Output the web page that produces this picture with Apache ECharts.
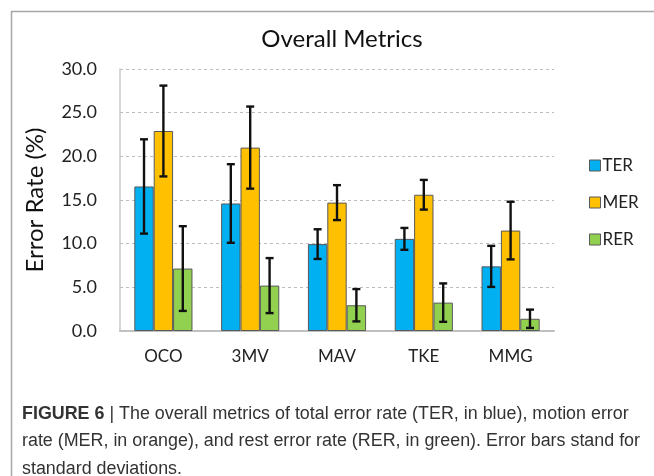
<!DOCTYPE html>
<html>
<head>
<meta charset="utf-8">
<script src="https://cdn.jsdelivr.net/npm/echarts@6/dist/echarts.min.js"></script>
<style>
  html, body { margin: 0; padding: 0; background: #fff; }
  #chart { width: 654px; height: 476px; }
</style>
</head>
<body>
<div id="chart"></div>
<script>
// Mean error rates (%) and standard deviations per method
const categories = ['OCO', '3MV', 'MAV', 'TKE', 'MMG'];
const seriesNames = ['TER', 'MER', 'RER'];
const terMean = [16.55, 14.6, 9.95, 10.55, 7.4];
const terSd   = [5.4, 4.5, 1.7, 1.25, 2.35];
const merMean = [22.9, 21.0, 14.7, 15.6, 11.5];
const merSd   = [5.2, 4.7, 2.0, 1.7, 3.3];
const rerMean = [7.15, 5.2, 2.95, 3.25, 1.4];
const rerSd   = [4.85, 3.15, 1.85, 2.2, 1.05];
const yTicks  = [0, 5, 10, 15, 20, 25, 30];

const captionLines = [
  ['FIGURE 6', ' | The overall metrics of total error rate (TER, in blue), motion error'],
  ['', 'rate (MER, in orange), and rest error rate (RER, in green). Error bars stand for'],
  ['', 'standard deviations.']
];

const means = [terMean, merMean, rerMean];
const sds = [terSd, merSd, rerSd];
const colors = ['#00B0F0', '#FFC000', '#92D050'];
const FONT = 'Lato';
const CAP_FONT = 'Liberation Sans';
const CAT_GAP = 0.33;

// Condense the caption typeface so its second line spans the frame width
const ctx = document.createElement('canvas').getContext('2d');
ctx.font = '18px "' + CAP_FONT + '"';
const capScale = 618 / ctx.measureText(captionLines[1][1]).width;

const chart = echarts.init(document.getElementById('chart'), null, { renderer: 'canvas' });

const barSeries = seriesNames.map((name, k) => ({
  name: name,
  type: 'bar',
  data: means[k],
  barGap: '0%',
  barCategoryGap: (CAT_GAP * 100) + '%',
  itemStyle: { color: colors[k], borderColor: '#595959', borderWidth: 1 },
  z: 2
}));

// Error bars: one custom series per metric, drawn at that bar's slot
const errSeries = seriesNames.map((name, k) => ({
  type: 'custom',
  name: name + '_sd',
  z: 5,
  silent: true,
  data: categories.map((c, i) => [i, means[k][i], sds[k][i]]),
  renderItem: function (params, api) {
    const i = api.value(0), m = api.value(1), s = api.value(2);
    const band = api.size([1, 0])[0];
    const bw = band * (1 - CAT_GAP) / 3;
    const center = api.coord([i, m]);
    const x = center[0] + (k - 1) * bw;
    const top = api.coord([i, m + s])[1];
    const bot = api.coord([i, Math.max(m - s, 0)])[1];
    const cap = 4;
    const style = { stroke: '#111', lineWidth: 2.4 };
    return {
      type: 'group',
      children: [
        { type: 'line', shape: { x1: x, y1: top, x2: x, y2: bot }, style: style },
        { type: 'line', shape: { x1: x - cap, y1: top, x2: x + cap, y2: top }, style: style },
        { type: 'line', shape: { x1: x - cap, y1: bot, x2: x + cap, y2: bot }, style: style }
      ]
    };
  }
}));

const captionText = captionLines.map(l =>
  (l[0] ? '{b|' + l[0] + '}' : '') + '{n|' + l[1] + '}').join('\n');

chart.setOption({
  animation: false,
  title: {
    text: 'Overall Metrics',
    left: 337, top: 22, textAlign: 'center',
    textStyle: { fontFamily: FONT, fontSize: 24, fontWeight: 'normal', color: '#111' }
  },
  legend: {
    data: seriesNames,
    orient: 'vertical',
    left: 584, top: 152,
    itemGap: 20,
    itemWidth: 11, itemHeight: 11,
    icon: 'rect',
    textStyle: { fontFamily: FONT, fontSize: 17, color: '#222', padding: [0, 0, 0, -3] },
    itemStyle: { borderColor: '#595959', borderWidth: 1 }
  },
  grid: { left: 120, right: 100, top: 69, height: 262 },
  xAxis: {
    type: 'category',
    data: categories,
    axisLine: { lineStyle: { color: '#c0c0c0', width: 2 } },
    axisTick: { show: false },
    axisLabel: { fontFamily: FONT, fontSize: 17, color: '#222', margin: 17 }
  },
  yAxis: {
    type: 'value',
    min: yTicks[0], max: yTicks[yTicks.length - 1], interval: 5,
    name: 'Error Rate (%)',
    nameLocation: 'middle',
    nameGap: 73,
    nameTextStyle: { fontFamily: FONT, fontSize: 24, color: '#111' },
    axisLine: { show: true, lineStyle: { color: '#c8c8c8', width: 1.5 } },
    axisTick: { show: false },
    axisLabel: {
      fontFamily: FONT, fontSize: 18, color: '#222', margin: 23,
      formatter: v => v.toFixed(1)
    },
    splitLine: { lineStyle: { color: '#bdbdbd', type: [3, 3], width: 1 } }
  },
  graphic: [
    {
      type: 'rect', left: 9, top: 9, silent: true,
      shape: { width: 700, height: 500 },
      style: { fill: 'none', stroke: '#a6a6a6', lineWidth: 1.5 }
    },
    {
      type: 'text', x: 22, y: 400, scaleX: capScale, silent: true,
      style: {
        rich: {
          b: { fontFamily: CAP_FONT, fontWeight: 'bold', fontSize: 18, fill: '#333', lineHeight: 27.5 },
          n: { fontFamily: CAP_FONT, fontSize: 18, fill: '#333', lineHeight: 27.5 }
        },
        text: captionText,
        lineHeight: 27.5
      }
    }
  ],
  series: barSeries.concat(errSeries)
});
</script>
</body>
</html>
